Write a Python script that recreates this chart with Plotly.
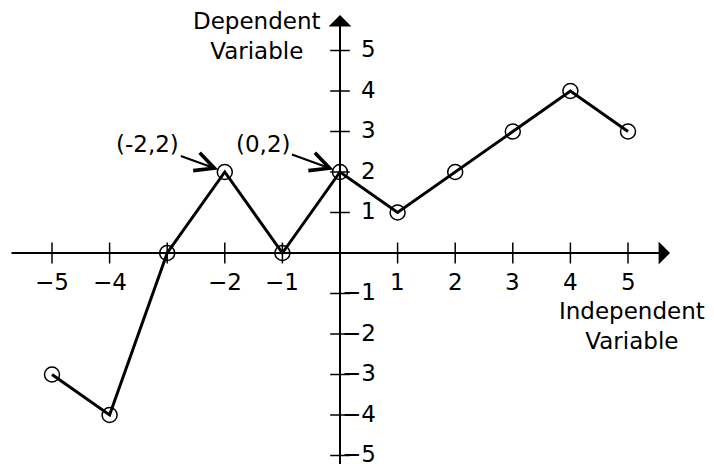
import plotly.graph_objects as go

# Data
x_vals = [-5, -4, -3, -2, -1, 0, 1, 2, 3, 4, 5]
y_vals = [-3, -4, 0, 2, 0, 2, 1, 2, 3, 4, 3]

x_ticks = [-5, -4, -3, -2, -1, 1, 2, 3, 4, 5]
x_tick_labels = ["\u22125", "\u22124", "", "\u22122", "\u22121", "1", "2", "3", "4", "5"]
y_ticks = [5, 4, 3, 2, 1, -1, -2, -3, -4, -5]
y_tick_labels = ["5", "4", "3", "2", "1", "\u22121", "\u22122", "\u22123", "\u22124", "\u22125"]

callouts = [(-2, 2, "(-2,2)"), (0, 2, "(0,2)")]

FONT = "DejaVu Sans"
FS = 23
PX_X = 57.6
PX_Y = 40.5

fig = go.Figure()

# tick marks
fig.add_trace(go.Scatter(
    x=x_ticks, y=[0] * len(x_ticks), mode="markers",
    marker=dict(symbol="line-ns", size=15, line=dict(width=1.5, color="black")),
    hoverinfo="skip", showlegend=False))
fig.add_trace(go.Scatter(
    x=[0] * len(y_ticks), y=y_ticks, mode="markers",
    marker=dict(symbol="line-ew", size=14, line=dict(width=1.5, color="black")),
    hoverinfo="skip", showlegend=False))

# data
fig.add_trace(go.Scatter(
    x=x_vals, y=y_vals, mode="lines+markers",
    line=dict(color="black", width=3),
    marker=dict(symbol="circle-open", size=15, color="black", line=dict(width=1.5, color="black")),
    showlegend=False))

annotations = []
# axes with arrows
annotations.append(dict(x=330 / PX_X, y=0, ax=-330 / PX_X, ay=0, xref="x", yref="y", axref="x", ayref="y",
                        text="", showarrow=True, arrowhead=1, arrowsize=1.9, arrowwidth=2, arrowcolor="black"))
annotations.append(dict(x=0, y=238 / PX_Y, ax=0, ay=-5.3, xref="x", yref="y", axref="x", ayref="y",
                        text="", showarrow=True, arrowhead=1, arrowsize=1.9, arrowwidth=2, arrowcolor="black"))

# tick labels
for xv, lab in zip(x_ticks, x_tick_labels):
    if lab:
        annotations.append(dict(x=xv, y=-0.72, xref="x", yref="y", text=lab, showarrow=False,
                                font=dict(family=FONT, size=FS, color="black"), xanchor="center", yanchor="middle"))
for yv, lab in zip(y_ticks, y_tick_labels):
    annotations.append(dict(x=0.66, y=yv + 0.03, xref="x", yref="y", text=lab, showarrow=False,
                            font=dict(family=FONT, size=FS, color="black"), xanchor="right", yanchor="middle"))

# axis titles
annotations.append(dict(x=-1.44, y=5.36, xref="x", yref="y", text="Dependent<br>Variable", showarrow=False,
                        font=dict(family=FONT, size=FS, color="black"), align="center"))
annotations.append(dict(x=5.07, y=-1.81, xref="x", yref="y", text="Independent<br>Variable", showarrow=False,
                        font=dict(family=FONT, size=FS, color="black"), align="center"))

# callouts
for cx, cy, lab in callouts:
    annotations.append(dict(x=cx, y=cy, xref="x", yref="y", text=lab, showarrow=True,
                            ax=-77, ay=-28, arrowhead=5, arrowsize=1.7, arrowwidth=2.2, arrowcolor="black",
                            standoff=7, font=dict(family=FONT, size=FS, color="black")))

fig.update_layout(
    width=714, height=464,
    margin=dict(l=0, r=0, t=0, b=0),
    paper_bgcolor="white", plot_bgcolor="white",
    xaxis=dict(range=[-340 / PX_X, 374 / PX_X], visible=False),
    yaxis=dict(range=[-211 / PX_Y, 253 / PX_Y], visible=False),
    annotations=annotations,
    showlegend=False,
)

fig.write_html("out.html", config={"displayModeBar": False},
               post_script="document.body.style.margin='0';document.body.style.overflow='hidden';")
